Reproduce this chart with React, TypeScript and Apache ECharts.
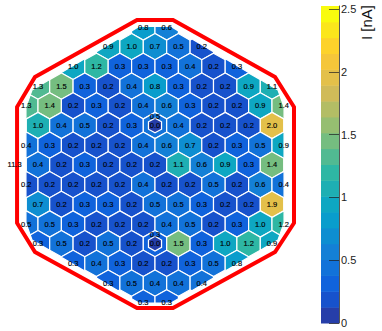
import React, { useEffect, useRef } from "react";
import * as echarts from "echarts";

// Cell values per row, top to bottom (labels show one decimal)
const row00 = [0.8, 0.6];
const row01 = [0.9, 0.97, 0.7, 0.5, 0.2];
const row02 = [0.97, 1.2, 0.3, 0.3, 0.3, 0.4, 0.2, 0.3];
const row03 = [1.3, 1.49, 0.3, 0.2, 0.4, 0.8, 0.3, 0.2, 0.2, 0.9, 1.13];
const row04 = [1.3, 1.4, 0.2, 0.3, 0.2, 0.4, 0.6, 0.3, 0.2, 0.2, 0.9, 1.4];
const row05 = [1.03, 0.4, 0.5, 0.2, 0.3, 0.45, 0.4, 0.2, 0.2, 0.2, 1.98];
const row06 = [0.4, 0.3, 0.2, 0.2, 0.2, 0.4, 0.6, 0.7, 0.2, 0.3, 0.5, 0.9];
const row07 = [11.3, 0.4, 0.2, 0.3, 0.2, 0.2, 0.2, 1.13, 0.6, 0.9, 0.3, 1.4];
const row08 = [0.2, 0.2, 0.2, 0.2, 0.2, 0.4, 0.2, 0.2, 0.5, 0.2, 0.6, 0.4];
const row09 = [0.7, 0.2, 0.3, 0.3, 0.2, 0.5, 0.5, 0.3, 0.2, 0.2, 1.9];
const row10 = [0.5, 0.5, 0.3, 0.2, 0.2, 0.2, 0.4, 0.5, 0.2, 0.3, 0.97, 1.2];
const row11 = [0.3, 0.5, 0.2, 0.5, 0.2, 0.3, 1.49, 0.3, 0.97, 1.2, 0.9];
const row12 = [0.3, 0.4, 0.3, 0.2, 0.2, 0.3, 0.5, 0.8];
const row13 = [0.3, 0.5, 0.4, 0.4, 0.4];
const row14 = [0.3, 0.3];
const rows = [row00, row01, row02, row03, row04, row05, row06, row07, row08, row09, row10, row11, row12, row13, row14];
// Half-cell column where each row starts
const rowStarts = [-1, -4, -7, -10, -11, -10, -11, -12, -11, -10, -11, -10, -7, -4, -1];

// Small inner cells: [column, row, value]
const innerCells = [
  [0, 5, 0.0],
  [0, 11, 0.0],
];

// Detector outline and the sensitive area that trims the cells, in cell units
const outline = [
  [-1.54, -0.355], [1.54, -0.355], [10.26, 2.54], [11.88, 4.06], [11.88, 9.95], [10.26, 11.42],
  [1.54, 14.26], [-1.54, 14.26], [-10.26, 11.42], [-11.79, 9.95], [-11.79, 4.06], [-10.26, 2.54],
];
const trim = [
  [-1.37, -0.025], [1.37, -0.025], [10.51, 3.2], [11.03, 4.06], [11.03, 9.95], [10.51, 10.81],
  [1.37, 14.01], [-1.37, 14.01], [-10.51, 10.81], [-11.03, 9.95], [-11.03, 4.06], [-10.51, 3.2],
];

// Colour scale
const scaleMax = 2.524;
const scaleTicks = [0, 0.5, 1, 1.5, 2, 2.5];
const levelColors = [
  "rgb(38,62,169)", "rgb(23,82,204)", "rgb(16,99,220)", "rgb(18,114,217)", "rgb(20,128,214)",
  "rgb(14,142,209)", "rgb(9,157,204)", "rgb(14,167,194)", "rgb(30,175,179)", "rgb(46,183,164)",
  "rgb(81,186,146)", "rgb(117,189,128)", "rgb(150,190,113)", "rgb(179,189,101)", "rgb(208,187,89)",
  "rgb(227,192,74)", "rgb(245,198,58)", "rgb(253,210,43)", "rgb(251,230,28)", "rgb(249,251,14)",
];
const colorTitle = "I [nA]";

const levelStep = scaleMax / levelColors.length;
const colorOf = (v: number) =>
  levelColors[Math.min(levelColors.length - 1, Math.max(0, Math.floor(v / levelStep)))];

function clipPolygon(points: number[][], clip: number[][]) {
  let output = points;
  for (let i = 0; i < clip.length && output.length; i++) {
    const a = clip[i];
    const b = clip[(i + 1) % clip.length];
    const side = (p: number[]) => (b[0] - a[0]) * (p[1] - a[1]) - (b[1] - a[1]) * (p[0] - a[0]);
    const input = output;
    output = [];
    for (let j = 0; j < input.length; j++) {
      const p = input[j];
      const q = input[(j + 1) % input.length];
      const sp = side(p);
      const sq = side(q);
      if (sp >= 0) output.push(p);
      if (sp >= 0 !== sq >= 0) {
        const t = sp / (sp - sq);
        output.push([p[0] + (q[0] - p[0]) * t, p[1] + (q[1] - p[1]) * t]);
      }
    }
  }
  return output;
}

const cells: number[][] = [];
rows.forEach((values, r) => {
  values.forEach((v, i) => cells.push([rowStarts[r] + 2 * i, r, v]));
});
const isCentre = (c: number, r: number) => innerCells.some((k) => k[0] === c && k[1] === r);

export default function App() {
  const ref = useRef<HTMLDivElement>(null);
  useEffect(() => {
    const chart = echarts.init(ref.current!, undefined, { renderer: "svg" });
    const font = '7.5px "Liberation Sans", Arial, sans-serif';
    const labelStyle = { fill: "#000", font, align: "center", verticalAlign: "middle", stroke: "#000", lineWidth: 0.15 };
    const hexPoints = (api: any, c: number, r: number, scale: number) => {
      const [cx, cy] = api.coord([c, r]);
      const [w, h] = api.size([1, 1]);
      const rad = (h * 2) / 3;
      return [
        [cx, cy - rad * scale],
        [cx + w * scale, cy - (rad / 2) * scale],
        [cx + w * scale, cy + (rad / 2) * scale],
        [cx, cy + rad * scale],
        [cx - w * scale, cy + (rad / 2) * scale],
        [cx - w * scale, cy - (rad / 2) * scale],
      ];
    };
    chart.setOption({
      animation: false,
      backgroundColor: "#ffffff",
      grid: [
        { left: 14.6, top: 27, width: 280.8, height: 275.8 },
        { left: 321, top: 6, width: 18, height: 317 },
      ],
      xAxis: [
        { type: "value", gridIndex: 0, min: -12, max: 12, show: false },
        { type: "value", gridIndex: 1, min: 0, max: 1, show: false },
      ],
      yAxis: [
        { type: "value", gridIndex: 0, min: 0, max: 14, inverse: true, show: false },
        {
          type: "value",
          gridIndex: 1,
          min: 0,
          max: scaleMax,
          position: "right",
          z: 6,
          splitLine: { show: false },
          axisLine: { show: true, onZero: false, lineStyle: { color: "rgba(30,30,30,0.75)", width: 1 } },
          axisTick: { show: true, inside: true, length: 10, customValues: scaleTicks, lineStyle: { color: "rgba(30,30,30,0.7)", width: 1 } },
          axisLabel: { customValues: scaleTicks, color: "#222", fontSize: 11, margin: 2, fontFamily: '"Liberation Sans", Arial, sans-serif' },
        },
      ],
      graphic: [
        {
          type: "text",
          x: 366,
          y: 22.5,
          rotation: Math.PI / 2,
          style: { text: colorTitle, fill: "#111", font: '15px "Liberation Sans", Arial, sans-serif', align: "center", verticalAlign: "middle" },
        },
      ],
      series: [
        {
          type: "custom",
          xAxisIndex: 1,
          yAxisIndex: 1,
          z: 1,
          data: levelColors.map((_, i) => [i]),
          encode: { x: [], y: 0 },
          renderItem: (params: any, api: any) => {
            const i = api.value(0);
            const [x0, y0] = api.coord([0, i * levelStep]);
            const [x1, y1] = api.coord([1, (i + 1) * levelStep]);
            return {
              type: "rect",
              shape: { x: x0, y: y1, width: x1 - x0, height: y0 - y1 + 0.5 },
              style: { fill: levelColors[i] },
            };
          },
        },
        {
          type: "custom",
          data: cells,
          encode: { x: 0, y: 1 },
          z: 2,
          renderItem: (params: any, api: any) => {
            const c = api.value(0);
            const r = api.value(1);
            const clipPts = trim.map((p) => api.coord(p));
            const pts = clipPolygon(hexPoints(api, c, r, 1), clipPts);
            if (pts.length < 3) return null;
            return {
              type: "polygon",
              shape: { points: pts },
              style: { fill: colorOf(api.value(2)), stroke: "#ffffff", lineWidth: 1.2 },
            };
          },
        },
        {
          type: "custom",
          data: innerCells,
          encode: { x: 0, y: 1 },
          z: 3,
          renderItem: (params: any, api: any) => ({
            type: "polygon",
            shape: { points: hexPoints(api, api.value(0), api.value(1), 0.56) },
            style: { fill: colorOf(api.value(2)), stroke: "#ffffff", lineWidth: 1.2 },
          }),
        },
        {
          type: "custom",
          data: [[0, 0]],
          encode: { x: 0, y: 1 },
          z: 4,
          renderItem: (params: any, api: any) => ({
            type: "polygon",
            shape: { points: outline.map((p) => api.coord(p)) },
            style: { fill: "none", stroke: "#ff0000", lineWidth: 4, lineJoin: "miter" },
          }),
        },
        {
          type: "custom",
          data: cells,
          encode: { x: 0, y: 1 },
          z: 5,
          renderItem: (params: any, api: any) => {
            const c = api.value(0);
            const r = api.value(1);
            const [x, y] = api.coord([c, r]);
            return {
              type: "text",
              x,
              y: isCentre(c, r) ? y - 9 : y,
              style: { ...labelStyle, text: api.value(2).toFixed(1) },
            };
          },
        },
        {
          type: "custom",
          data: innerCells,
          encode: { x: 0, y: 1 },
          z: 5,
          renderItem: (params: any, api: any) => {
            const [x, y] = api.coord([api.value(0), api.value(1)]);
            return {
              type: "text",
              x,
              y,
              style: { ...labelStyle, text: api.value(2).toFixed(1) },
            };
          },
        },
      ],
    });
    return () => chart.dispose();
  }, []);
  return (
    <div
      ref={ref}
      style={{ position: "absolute", left: 0, top: 0, width: 382, height: 331 }}
    />
  );
}
